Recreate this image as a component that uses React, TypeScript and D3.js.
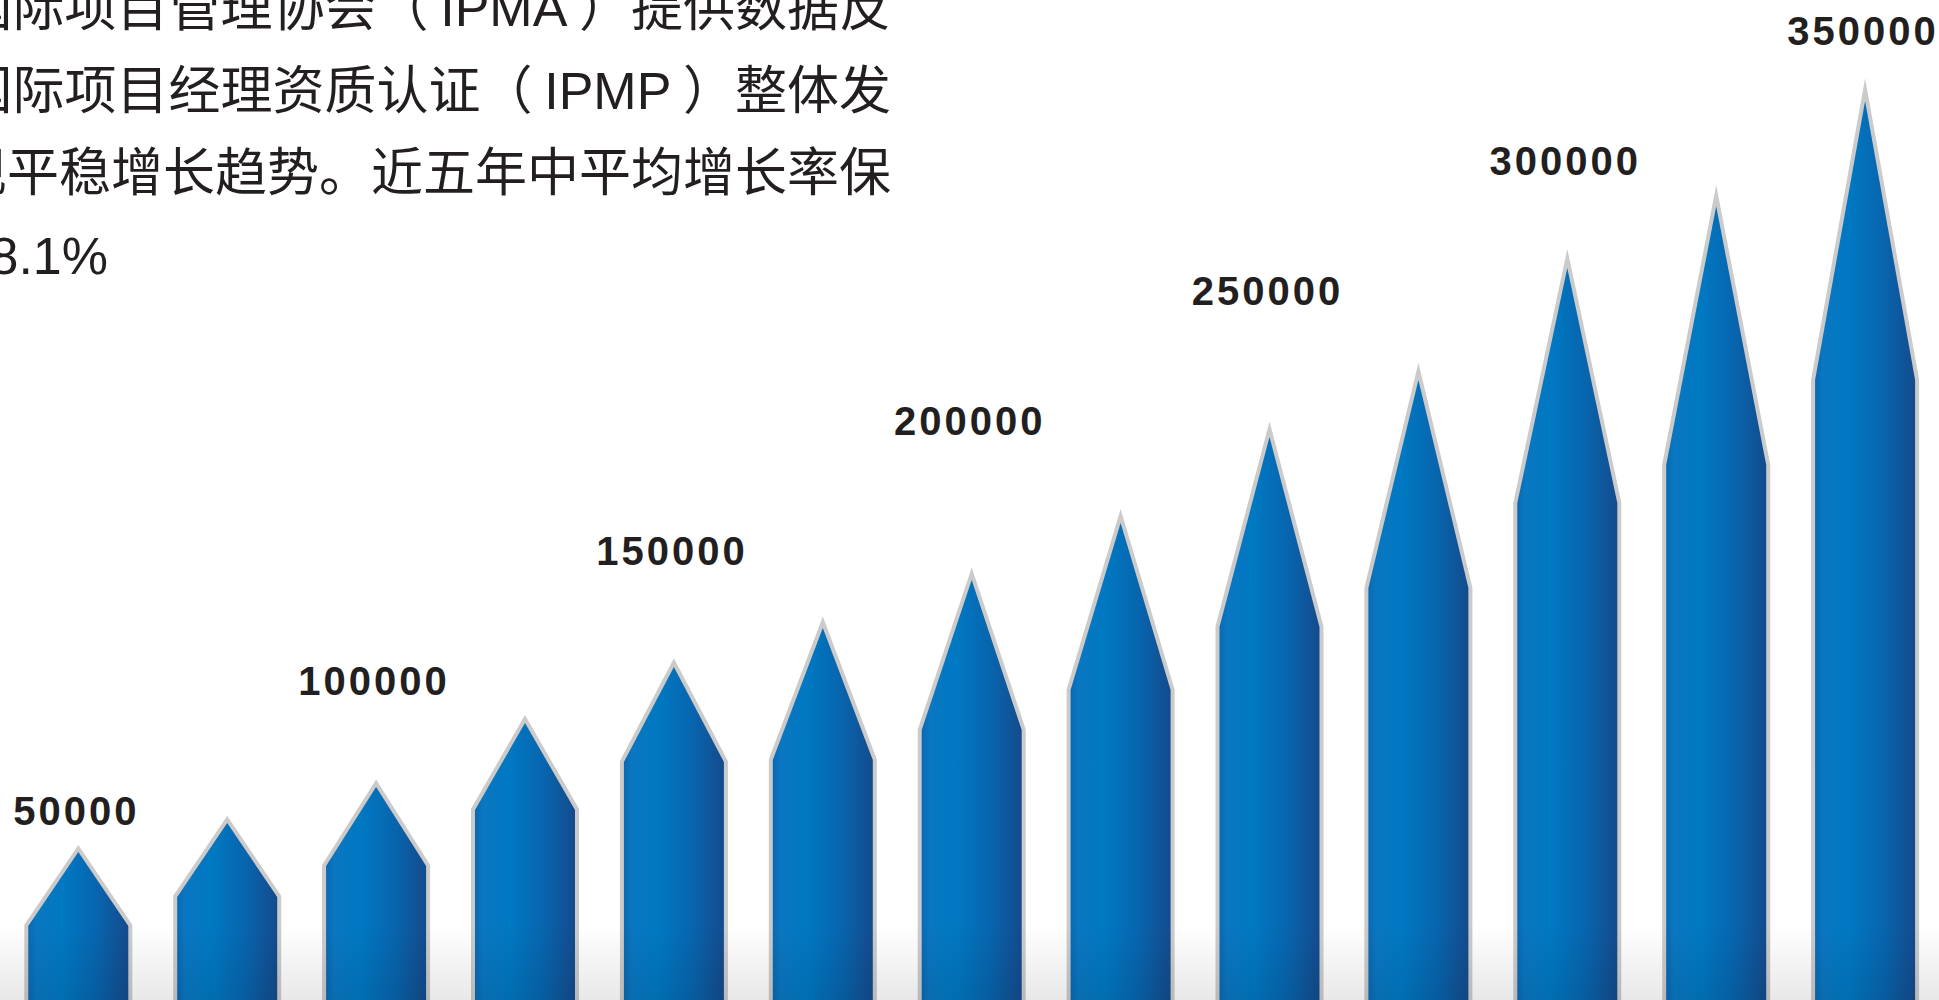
import React from 'react';
import * as d3 from 'd3';

// ---- data ----
const periods = ['P01', 'P02', 'P03', 'P04', 'P05', 'P06', 'P07', 'P08', 'P09', 'P10', 'P11', 'P12', 'P13'];
// value at the arrow tip
const tipValues = [39600, 50800, 64600, 89200, 110800, 125800, 144200, 166200, 199200, 221200, 264200, 288000, 328500];
// value where the rectangular body ends and the point begins
const shoulderValues = [11150, 22300, 34200, 55800, 74200, 75000, 86500, 101900, 126200, 141200, 173800, 188500, 221200];
// scale labels
const tickValues = [50000, 100000, 150000, 200000, 250000, 300000, 350000];
const tickLabels = ['50000', '100000', '150000', '200000', '250000', '300000', '350000'];
const tickPeriods = ['P01', 'P03', 'P05', 'P07', 'P09', 'P11', 'P13'];
// paragraph (left part is cut off by the picture edge)
const paragraphLines = [
  '据国际项目管理协会（ IPMA ）提供数据反',
  '映，国际项目经理资质认证（ IPMP ）整体发',
  '展呈现平稳增长趋势。近五年中平均增长率保',
  '持在8.1%',
];

const W = 1939;
const H = 1000;

const splitRuns = (s: string) => s.split(/([A-Za-z0-9.%]+)/).filter((t) => t.length > 0);
const isLatin = (t: string) => /^[A-Za-z0-9.%]+$/.test(t);

export default function App() {
  const x = d3
    .scaleBand<string>()
    .domain(periods)
    .range([28.3, 1915.1])
    .paddingInner(0.3284)
    .paddingOuter(0);
  const y = d3.scaleLinear().domain([0, 350000]).range([955, 45]);
  const bottom = H + 30;

  const shape = (i: number) => {
    const x0 = x(periods[i]) as number;
    const bw = x.bandwidth();
    const p = d3.path();
    p.moveTo(x0, bottom);
    p.lineTo(x0, y(shoulderValues[i]));
    p.lineTo(x0 + bw / 2, y(tipValues[i]));
    p.lineTo(x0 + bw, y(shoulderValues[i]));
    p.lineTo(x0 + bw, bottom);
    p.closePath();
    return p.toString();
  };

  const lineX = [891, 891, 891, 108];
  const lineY = [26, 108.5, 191, 273.5];

  return (
    <svg
      width={W}
      height={H}
      viewBox={`0 0 ${W} ${H}`}
      style={{ position: 'absolute', left: 0, top: 0, display: 'block', background: '#ffffff' }}
    >
      <defs>
        <linearGradient id="barGrad" x1="0" x2="1" y1="0" y2="0">
          <stop offset="0" stopColor="#0a69b3" />
          <stop offset="0.08" stopColor="#0a77c1" />
          <stop offset="0.35" stopColor="#0078c2" />
          <stop offset="0.7" stopColor="#0864ad" />
          <stop offset="1" stopColor="#144b8d" />
        </linearGradient>
        <linearGradient id="floorGrad" x1="0" x2="0" y1="0" y2="1">
          <stop offset="0" stopColor="#000000" stopOpacity="0" />
          <stop offset="1" stopColor="#000000" stopOpacity="0.09" />
        </linearGradient>
      </defs>
      <rect x={0} y={0} width={W} height={H} fill="#ffffff" />

      {paragraphLines.map((t, i) => (
        <text
          key={'p' + i}
          x={lineX[i]}
          y={lineY[i]}
          textAnchor="end"
          fontFamily="'Noto Sans CJK SC', 'Noto Sans', sans-serif"
          fontSize={52}
          fill="#231f20"
        >
          {splitRuns(t).map((r, j) =>
            isLatin(r) ? (
              <tspan key={j} fontFamily="'Liberation Sans', Arial, sans-serif">
                {r}
              </tspan>
            ) : (
              <tspan key={j}>{r}</tspan>
            )
          )}
        </text>
      ))}

      <g>
        {periods.map((p, i) => (
          <path
            key={'o' + p}
            d={shape(i)}
            fill="#cbcbcb"
            stroke="#cbcbcb"
            strokeWidth={8}
            strokeLinejoin="miter"
            strokeMiterlimit={30}
          />
        ))}
        {periods.map((p, i) => (
          <path key={'b' + p} d={shape(i)} fill="url(#barGrad)" />
        ))}
      </g>

      <rect x={0} y={925} width={W} height={H - 925} fill="url(#floorGrad)" />

      {tickValues.map((v, i) => (
        <text
          key={'t' + v}
          x={(x(tickPeriods[i]) as number) + x.bandwidth() / 2 - 2}
          y={y(v)}
          textAnchor="middle"
          fontFamily="'Liberation Sans', Arial, sans-serif"
          fontWeight="bold"
          fontSize={40}
          letterSpacing={3}
          fill="#231f20"
        >
          {tickLabels[i]}
        </text>
      ))}
    </svg>
  );
}
